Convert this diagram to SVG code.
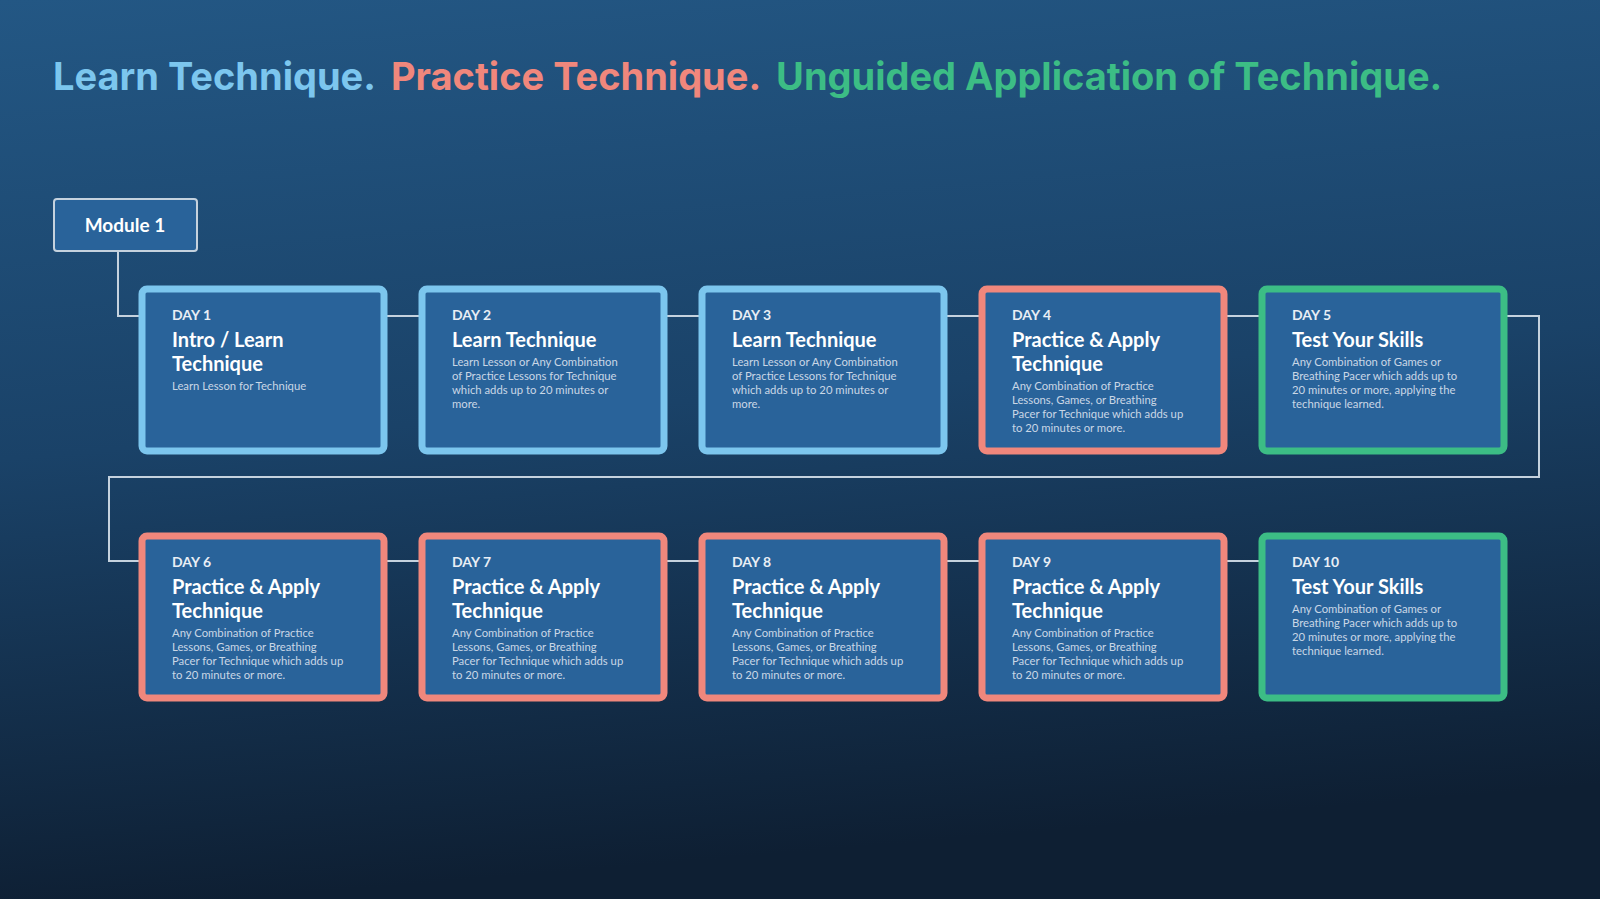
<svg xmlns="http://www.w3.org/2000/svg" width="1600" height="899" viewBox="0 0 1600 899">
<defs>
<linearGradient id="bg" x1="0" y1="0" x2="0.15" y2="1">
<stop offset="0" stop-color="#235784"/>
<stop offset="0.5" stop-color="#1a4268"/>
<stop offset="1" stop-color="#0e1f33"/>
</linearGradient>
<style>
.box{fill:#29639a;stroke-width:7}
.b{stroke:#7cc6ee}.p{stroke:#f0877c}.g{stroke:#3cbd85}
.day{font:bold 14px Lato,"Liberation Sans",sans-serif;fill:#e8eef5}
.tt{font:bold 20px Lato,"Liberation Sans",sans-serif;fill:#ffffff}
.ds{font:11.3px Lato,"Liberation Sans",sans-serif;fill:#c9d7e6}
.ln{fill:none;stroke:#c5d2de;stroke-width:2}
.hd{font:bold 38px Inter,"Liberation Sans",sans-serif}
</style>
</defs>
<rect width="1600" height="899" fill="url(#bg)"/>
<text x="53" y="90" class="hd"><tspan fill="#7cc6ee">Learn Technique.</tspan><tspan fill="#f0877c" dx="15">Practice Technique.</tspan><tspan fill="#3cbd85" dx="15">Unguided Application of Technique.</tspan></text>
<g id="connectors">
<path class="ln" d="M118 252V316H139"/>
<path class="ln" d="M387 316H419M667 316H699M947 316H979M1227 316H1259"/>
<path class="ln" d="M1507 316H1539V477H109V561H139"/>
<path class="ln" d="M387 561H419M667 561H699M947 561H979M1227 561H1259"/>
</g>
<g id="module1"><rect x="54" y="199" width="143" height="52" rx="3" fill="#29639a" stroke="#c5d2de" stroke-width="2"/><text x="125" y="232" text-anchor="middle" style="font:bold 19px Lato,'Liberation Sans',sans-serif;fill:#fff">Module 1</text></g>
<g id="day1"><rect class="box b" x="142" y="289" width="242" height="162" rx="5"/><text class="day" x="172" y="320">DAY 1</text><text class="tt" x="172" y="347">Intro / Learn</text><text class="tt" x="172" y="371">Technique</text><text class="ds" x="172" y="390">Learn Lesson for Technique</text></g>
<g id="day2"><rect class="box b" x="422" y="289" width="242" height="162" rx="5"/><text class="day" x="452" y="320">DAY 2</text><text class="tt" x="452" y="347">Learn Technique</text><text class="ds" x="452" y="366">Learn Lesson or Any Combination</text><text class="ds" x="452" y="380">of Practice Lessons for Technique</text><text class="ds" x="452" y="394">which adds up to 20 minutes or</text><text class="ds" x="452" y="408">more.</text></g>
<g id="day3"><rect class="box b" x="702" y="289" width="242" height="162" rx="5"/><text class="day" x="732" y="320">DAY 3</text><text class="tt" x="732" y="347">Learn Technique</text><text class="ds" x="732" y="366">Learn Lesson or Any Combination</text><text class="ds" x="732" y="380">of Practice Lessons for Technique</text><text class="ds" x="732" y="394">which adds up to 20 minutes or</text><text class="ds" x="732" y="408">more.</text></g>
<g id="day4"><rect class="box p" x="982" y="289" width="242" height="162" rx="5"/><text class="day" x="1012" y="320">DAY 4</text><text class="tt" x="1012" y="347">Practice &amp; Apply</text><text class="tt" x="1012" y="371">Technique</text><text class="ds" x="1012" y="390">Any Combination of Practice</text><text class="ds" x="1012" y="404">Lessons, Games, or Breathing</text><text class="ds" x="1012" y="418">Pacer for Technique which adds up</text><text class="ds" x="1012" y="432">to 20 minutes or more.</text></g>
<g id="day5"><rect class="box g" x="1262" y="289" width="242" height="162" rx="5"/><text class="day" x="1292" y="320">DAY 5</text><text class="tt" x="1292" y="347">Test Your Skills</text><text class="ds" x="1292" y="366">Any Combination of Games or</text><text class="ds" x="1292" y="380">Breathing Pacer which adds up to</text><text class="ds" x="1292" y="394">20 minutes or more, applying the</text><text class="ds" x="1292" y="408">technique learned.</text></g>
<g id="day6"><rect class="box p" x="142" y="536" width="242" height="162" rx="5"/><text class="day" x="172" y="567">DAY 6</text><text class="tt" x="172" y="594">Practice &amp; Apply</text><text class="tt" x="172" y="618">Technique</text><text class="ds" x="172" y="637">Any Combination of Practice</text><text class="ds" x="172" y="651">Lessons, Games, or Breathing</text><text class="ds" x="172" y="665">Pacer for Technique which adds up</text><text class="ds" x="172" y="679">to 20 minutes or more.</text></g>
<g id="day7"><rect class="box p" x="422" y="536" width="242" height="162" rx="5"/><text class="day" x="452" y="567">DAY 7</text><text class="tt" x="452" y="594">Practice &amp; Apply</text><text class="tt" x="452" y="618">Technique</text><text class="ds" x="452" y="637">Any Combination of Practice</text><text class="ds" x="452" y="651">Lessons, Games, or Breathing</text><text class="ds" x="452" y="665">Pacer for Technique which adds up</text><text class="ds" x="452" y="679">to 20 minutes or more.</text></g>
<g id="day8"><rect class="box p" x="702" y="536" width="242" height="162" rx="5"/><text class="day" x="732" y="567">DAY 8</text><text class="tt" x="732" y="594">Practice &amp; Apply</text><text class="tt" x="732" y="618">Technique</text><text class="ds" x="732" y="637">Any Combination of Practice</text><text class="ds" x="732" y="651">Lessons, Games, or Breathing</text><text class="ds" x="732" y="665">Pacer for Technique which adds up</text><text class="ds" x="732" y="679">to 20 minutes or more.</text></g>
<g id="day9"><rect class="box p" x="982" y="536" width="242" height="162" rx="5"/><text class="day" x="1012" y="567">DAY 9</text><text class="tt" x="1012" y="594">Practice &amp; Apply</text><text class="tt" x="1012" y="618">Technique</text><text class="ds" x="1012" y="637">Any Combination of Practice</text><text class="ds" x="1012" y="651">Lessons, Games, or Breathing</text><text class="ds" x="1012" y="665">Pacer for Technique which adds up</text><text class="ds" x="1012" y="679">to 20 minutes or more.</text></g>
<g id="day10"><rect class="box g" x="1262" y="536" width="242" height="162" rx="5"/><text class="day" x="1292" y="567">DAY 10</text><text class="tt" x="1292" y="594">Test Your Skills</text><text class="ds" x="1292" y="613">Any Combination of Games or</text><text class="ds" x="1292" y="627">Breathing Pacer which adds up to</text><text class="ds" x="1292" y="641">20 minutes or more, applying the</text><text class="ds" x="1292" y="655">technique learned.</text></g>
</svg>
